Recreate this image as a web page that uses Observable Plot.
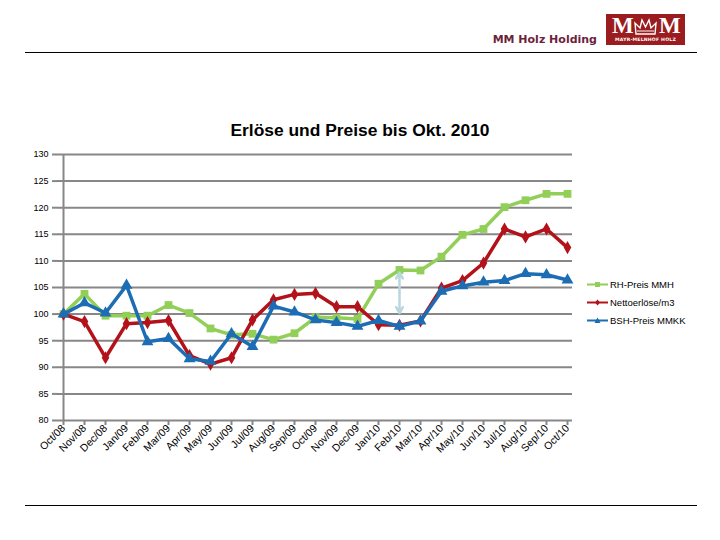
<!DOCTYPE html>
<html><head><meta charset="utf-8">
<script src="https://cdn.jsdelivr.net/npm/d3@7"></script>
<script src="https://cdn.jsdelivr.net/npm/@observablehq/plot@0.6"></script>
<style>
body{margin:0;background:#fff;font-family:"Liberation Sans",Arial,sans-serif;}
#page{position:relative;width:720px;height:540px;overflow:hidden;background:#fff;}
#brand{position:absolute;left:440px;width:157px;text-align:right;top:33px;font-family:"DejaVu Sans",Verdana,sans-serif;font-weight:bold;font-size:11px;color:#6e1f3c;}
#logo{position:absolute;left:606px;top:14px;width:79px;height:31px;background:#9a1c1f;color:#fff;}
#logo .m{position:absolute;top:-1px;font-family:"Liberation Serif",serif;font-size:23px;font-weight:bold;}
#logo .sub{position:absolute;left:0;width:79px;top:23px;text-align:center;font-family:"DejaVu Sans",sans-serif;font-size:4.6px;font-weight:bold;letter-spacing:0.2px;}
.hr{position:absolute;left:25px;width:672px;height:1px;background:#000;}
#title{position:absolute;left:0;width:720px;top:120px;text-align:center;font-weight:bold;font-size:17.4px;color:#000;}
#chart{position:absolute;left:0;top:140px;}
#legend{position:absolute;left:587px;top:278px;font-size:9.5px;color:#000;}
#legend .row{position:relative;height:18px;}
#legend svg{position:absolute;left:0;top:0;}
#legend span{position:absolute;left:23px;top:1px;white-space:nowrap;}
</style>
</head><body><div id="page">
<div id="brand">MM Holz Holding</div>
<div id="logo">
  <div class="m" style="left:6px">M</div>
  <svg style="position:absolute;left:28px;top:3px" width="23" height="19" viewBox="0 0 23 19">
    <path d="M2 17 L1 6 L6 11 L8 3 L11.5 10 L15 3 L17 11 L22 6 L21 17 Z" fill="none" stroke="#fff" stroke-width="1.4"/>
    <path d="M3 14 L20 14" stroke="#fff" stroke-width="1"/>
  </svg>
  <div class="m" style="left:53px">M</div>
  <div class="sub">MAYR-MELNHOF HOLZ</div>
</div>
<div class="hr" style="top:52px"></div>
<div id="title">Erlöse und Preise bis Okt. 2010</div>
<div id="chart"></div>
<div id="legend"></div>
<div class="hr" style="top:505px"></div>
</div>
<script>
const months = ["Oct/08","Nov/08","Dec/08","Jan/09","Feb/09","Mar/09","Apr/09","May/09","Jun/09","Jul/09","Aug/09","Sep/09","Oct/09","Nov/09","Dec/09","Jan/10","Feb/10","Mar/10","Apr/10","May/10","Jun/10","Jul/10","Aug/10","Sep/10","Oct/10"];
const rhPreis = [100,103.8,99.7,99.7,99.7,101.7,100.2,97.3,96.1,96.3,95.2,96.4,99.4,99.3,99.1,105.7,108.3,108.2,110.8,114.9,116.0,120.1,121.4,122.6,122.6];
const netto   = [100,98.6,91.8,98.2,98.4,98.8,92.2,90.6,91.8,98.9,102.7,103.7,103.9,101.4,101.4,98.0,97.9,98.7,104.9,106.3,109.6,116.0,114.5,116.0,112.5];
const bsh     = [100,102.1,100.2,105.4,94.8,95.4,91.6,91.1,96.3,93.9,101.5,100.4,98.9,98.4,97.7,98.8,97.7,98.7,104.3,105.3,106.0,106.3,107.6,107.4,106.4];
const seriesNames = ["RH-Preis MMH","Nettoerlöse/m3","BSH-Preis MMKK"];
const seriesColors = ["#92cf58","#b3121b","#1c6db3"];
const seriesSymbols = ["square","diamond","triangle"];
const yTicks = [80,85,90,95,100,105,110,115,120,125,130];
const arrowMonth = "Feb/10";
const arrowTop = 107.8;
const arrowBottom = 100.2;

const seriesValues = [rhPreis, netto, bsh];
const data = seriesValues.flatMap((vals, s) => vals.map((v, i) => ({month: months[i], value: v, series: seriesNames[s]})));
const mid = (arrowTop + arrowBottom) / 2;
const arrows = [{x: arrowMonth, y1: mid, y2: arrowTop}, {x: arrowMonth, y1: mid, y2: arrowBottom}];

const lineMarks = seriesNames.flatMap((name, s) => {
  const d = data.filter(r => r.series === name);
  return [
    Plot.line(d, {x: "month", y: "value", stroke: seriesColors[s], strokeWidth: 3.5, strokeLinejoin: "round"}),
    Plot.dot(d, {x: "month", y: "value", symbol: () => seriesSymbols[s], fill: seriesColors[s], stroke: "none", r: s === 1 ? 4 : 4.4})
  ];
});

const chart = Plot.plot({
  width: 720, height: 340,
  marginTop: 14, marginBottom: 60, marginLeft: 57, marginRight: 148,
  x: {type: "point", domain: months, padding: 0},
  y: {domain: [80, 130]},
  symbol: {type: "identity"},
  style: {fontFamily: "Liberation Sans, Arial, sans-serif", background: "transparent", color: "#000"},
  marks: [
    Plot.gridY(yTicks, {stroke: "#878787", strokeOpacity: 1, strokeWidth: 2}),
    Plot.ruleX([months[0]], {stroke: "#878787", strokeWidth: 2}),
    Plot.axisY(yTicks, {tickSize: 5, stroke: "#878787", strokeWidth: 2, fontSize: 9, tickPadding: 4, label: null}),
    Plot.axisX(months, {tickSize: 5, stroke: "#878787", strokeWidth: 2, fontSize: 10.5, tickRotate: -45, tickPadding: 1, label: null}),
    ...lineMarks,
    Plot.arrow(arrows, {x1: "x", x2: "x", y1: "y1", y2: "y2", stroke: "#b9d8dd", strokeWidth: 2.5, bend: 0, headLength: 9, insetStart: 0, insetEnd: 0})
  ]
});
document.getElementById("chart").appendChild(chart);

const legend = document.getElementById("legend");
seriesNames.forEach((name, s) => {
  const row = document.createElement("div");
  row.className = "row";
  const sym = s === 0 ? `<rect x="8" y="4" width="5" height="5" fill="${seriesColors[s]}"/>` :
              s === 1 ? `<path d="M10.5 3.5 L13 6.5 L10.5 9.5 L8 6.5 Z" fill="${seriesColors[s]}"/>` :
                        `<path d="M10.5 3.5 L13.5 9 L7.5 9 Z" fill="${seriesColors[s]}"/>`;
  row.innerHTML = `<svg width="22" height="13"><line x1="0" x2="21" y1="6.5" y2="6.5" stroke="${seriesColors[s]}" stroke-width="2"/>${sym}</svg><span>${name}</span>`;
  legend.appendChild(row);
});
</script>
</body></html>
